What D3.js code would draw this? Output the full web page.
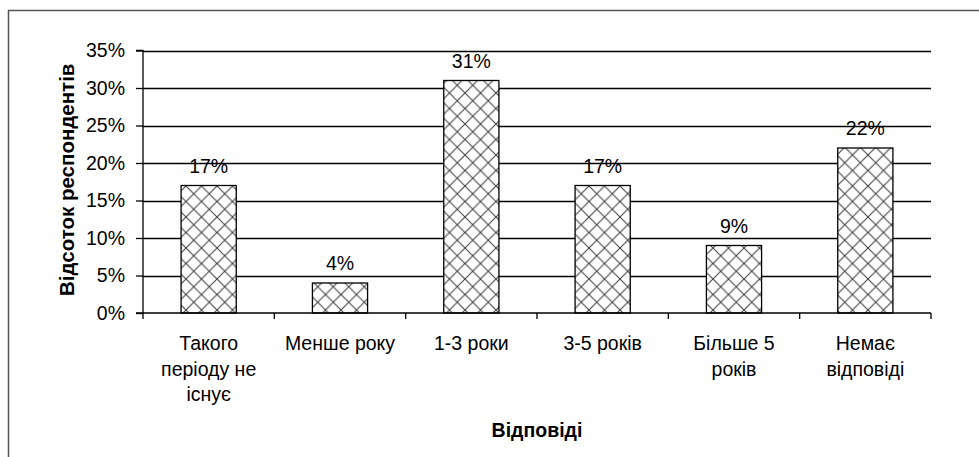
<!DOCTYPE html>
<html>
<head>
<meta charset="utf-8">
<script src="https://cdn.jsdelivr.net/npm/d3@7"></script>
<style>
  html, body { margin: 0; padding: 0; background: #fff; }
  svg { display: block; font-family: "Liberation Sans", Arial, sans-serif; }
</style>
</head>
<body>
<svg id="chart" width="979" height="457"></svg>
<script>
// ---- data ----
const categories = [
  "Такого\nперіоду не\nіснує",
  "Менше року",
  "1-3 роки",
  "3-5 років",
  "Більше 5\nроків",
  "Немає\nвідповіді"
];
const values = [17, 4, 31, 17, 9, 22];
const yTicks = [0, 5, 10, 15, 20, 25, 30, 35];
const yAxisTitle = "Відсоток респондентів";
const xAxisTitle = "Відповіді";

(function () {
// ---- layout ----
const svg = d3.select("#chart");
const plotL = 143, plotR = 931, plotT = 50.5, plotB = 313;
const fontSize = 19.5;

// outer frame (extends beyond the visible area on the right and bottom)
svg.append("rect")
  .attr("x", 8.5).attr("y", 10.5)
  .attr("width", 1000).attr("height", 1000)
  .attr("fill", "none").attr("stroke", "#555").attr("stroke-width", 1.5);

// pattern
const defs = svg.append("defs");
const p = 15.5;
const pat = defs.append("pattern")
  .attr("id", "cross").attr("patternUnits", "userSpaceOnUse")
  .attr("width", p).attr("height", p);
pat.append("rect").attr("width", p).attr("height", p).attr("fill", "#fff");
pat.append("path")
  .attr("d", `M0,0L${p},${p}M${p},0L0,${p}`)
  .attr("stroke", "#444").attr("stroke-width", 1.1).attr("fill", "none");

const x = d3.scaleBand().domain(categories).range([plotL, plotR]).padding(0);
const y = d3.scaleLinear().domain([0, 35]).range([plotB, plotT]);

// gridlines
svg.append("g").selectAll("line").data(yTicks.filter(d => d > 0)).join("line")
  .attr("x1", plotL).attr("x2", plotR)
  .attr("y1", d => Math.round(y(d)) + 0.5).attr("y2", d => Math.round(y(d)) + 0.5)
  .attr("stroke", "#000").attr("stroke-width", 1.3);

// y axis
const yAxis = d3.axisLeft(y).tickValues(yTicks).tickFormat(d => d + "%").tickSize(7).tickPadding(11);
const gy = svg.append("g").attr("transform", `translate(${plotL},0)`).call(yAxis);
gy.select(".domain").attr("stroke", "#000").attr("stroke-width", 1.3).attr("d", `M-7,${plotT}H0V${plotB}H-7`);
gy.selectAll(".tick line").attr("stroke", "#000").attr("stroke-width", 1.3);
gy.selectAll(".tick text").attr("font-size", fontSize).attr("fill", "#000")
  .attr("font-family", "'Liberation Sans', Arial, sans-serif");

// bars
const barW = x.bandwidth() * 0.42;
svg.append("g").selectAll("rect").data(values).join("rect")
  .attr("x", (d, i) => x(categories[i]) + (x.bandwidth() - barW) / 2)
  .attr("y", d => y(d))
  .attr("width", barW)
  .attr("height", d => y(0) - y(d))
  .attr("fill", "url(#cross)")
  .attr("stroke", "#000").attr("stroke-width", 1.3);

// value labels
svg.append("g").selectAll("text").data(values).join("text")
  .attr("x", (d, i) => x(categories[i]) + x.bandwidth() / 2)
  .attr("y", d => y(d) - 13)
  .attr("text-anchor", "middle")
  .attr("font-size", fontSize).attr("fill", "#000")
  .text(d => d + "%");

// x axis
const gx = svg.append("g").attr("transform", `translate(0,${plotB})`);
gx.append("line").attr("x1", plotL).attr("x2", plotR).attr("y1", 0).attr("y2", 0)
  .attr("stroke", "#000").attr("stroke-width", 1.3);
const boundaries = categories.map(c => x(c)).concat([plotR]);
gx.selectAll("line.tk").data(boundaries).join("line").attr("class", "tk")
  .attr("x1", d => d).attr("x2", d => d).attr("y1", 0).attr("y2", 6)
  .attr("stroke", "#000").attr("stroke-width", 1.3);

const labels = svg.append("g").selectAll("text").data(categories).join("text")
  .attr("text-anchor", "middle").attr("font-size", fontSize).attr("fill", "#000");
labels.each(function(c) {
  const t = d3.select(this);
  c.split("\n").forEach((line, i) => {
    t.append("tspan").attr("x", x(c) + x.bandwidth() / 2).attr("y", 350 + i * 25.5).text(line);
  });
});

// axis titles
svg.append("text")
  .attr("x", (plotL + plotR) / 2).attr("y", 437)
  .attr("text-anchor", "middle").attr("font-size", fontSize).attr("font-weight", "bold")
  .text(xAxisTitle);
svg.append("text")
  .attr("transform", `translate(74,${(plotT + plotB) / 2 - 2}) rotate(-90)`)
  .attr("text-anchor", "middle").attr("font-size", 20.5).attr("font-weight", "bold")
  .text(yAxisTitle);
})();
</script>
</body>
</html>
